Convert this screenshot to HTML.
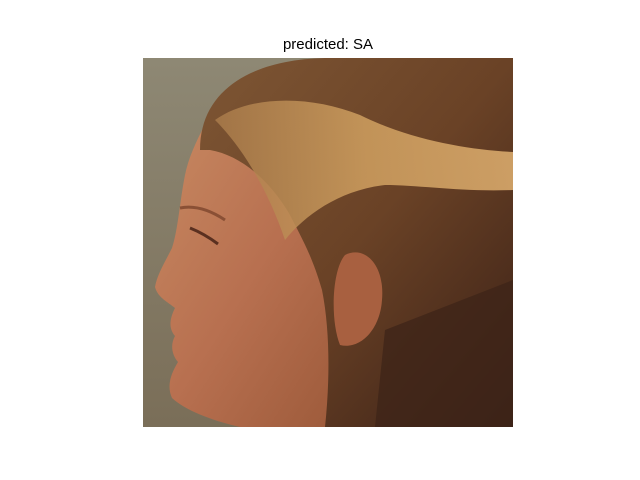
<!DOCTYPE html>
<html><head><meta charset="utf-8"><style>
html,body{margin:0;padding:0;background:#fff;}
svg{display:block;}
</style></head><body>
<svg width="640" height="480" viewBox="0 0 640 480">
<defs>
<clipPath id="clip"><rect x="143" y="58" width="370" height="369"/></clipPath>
<linearGradient id="bg" x1="0" y1="0" x2="0" y2="1">
<stop offset="0" stop-color="#8e8874"/><stop offset="1" stop-color="#7a6e58"/></linearGradient>
<linearGradient id="hair" x1="0" y1="0" x2="1" y2="1">
<stop offset="0" stop-color="#7e5634"/><stop offset="0.5" stop-color="#6a4226"/><stop offset="1" stop-color="#3a2016"/></linearGradient>
<linearGradient id="skin" x1="0" y1="0" x2="1" y2="1">
<stop offset="0" stop-color="#c88a62"/><stop offset="0.5" stop-color="#b87050"/><stop offset="1" stop-color="#9a5838"/></linearGradient>
<linearGradient id="blonde" x1="0" y1="0" x2="1" y2="0">
<stop offset="0" stop-color="#a87a4a"/><stop offset="0.5" stop-color="#d0a060"/><stop offset="1" stop-color="#e0b070"/></linearGradient>
</defs>
<text x="328" y="49" text-anchor="middle" font-family="Liberation Sans, DejaVu Sans, sans-serif" font-size="15" fill="#000">predicted: SA</text>
<g clip-path="url(#clip)">
<rect x="143" y="58" width="370" height="369" fill="url(#bg)"/>
<path d="M215,105 C205,125 190,150 185,175 C180,200 178,230 172,248 C165,262 157,275 155,287 C158,298 168,302 175,308 C170,318 168,328 175,336 C170,345 172,355 178,362 C172,372 166,385 172,398 C185,410 210,420 240,427 L360,427 L360,120 Z" fill="url(#skin)"/>
<path d="M200,150 C200,85 260,58 330,58 L513,58 L513,427 L325,427 C330,380 330,330 322,290 C312,255 300,235 290,215 C270,180 240,155 210,150 Z" fill="url(#hair)"/>
<path d="M345,255 C365,245 385,265 382,300 C380,330 360,350 340,345 C330,320 332,270 345,255 Z" fill="#a86040"/>
<path d="M215,120 C250,95 310,95 360,115 C410,140 470,150 513,152 L513,190 C460,192 420,185 385,185 C340,190 305,215 285,240 C270,195 245,150 215,120 Z" fill="url(#blonde)" opacity="0.85"/>
<path d="M385,330 L513,280 L513,427 L375,427 Z" fill="#3e2418" opacity="0.75"/>
<path d="M190,228 C200,232 210,238 218,244" stroke="#5a3020" stroke-width="3" fill="none"/>
<path d="M180,208 C195,205 210,210 225,220" stroke="#8a5035" stroke-width="3" fill="none"/>
</g>
</svg>
</body></html>
